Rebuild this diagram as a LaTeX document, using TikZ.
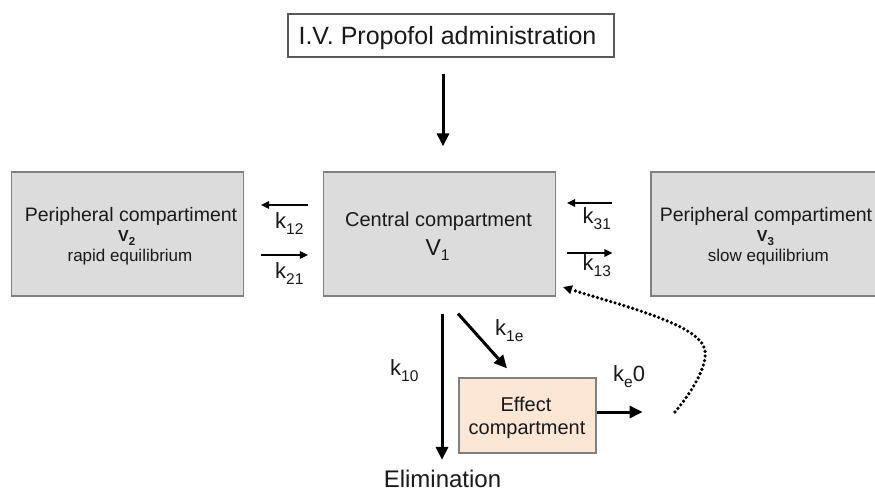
\documentclass[tikz,border=0pt]{standalone}
\usepackage{fontspec}
\setmainfont{Liberation Sans}
\usetikzlibrary{arrows.meta}
\newcommand\fs[1]{\fontsize{#1}{#1}\selectfont}
\newcommand\lowsub[3]{\raisebox{-#2pt}{\fs{#1}#3}}
\definecolor{peach}{RGB}{252,230,214}
\definecolor{boxgrey}{RGB}{220,220,220}
\definecolor{ink}{RGB}{25,25,25}
\begin{document}
\begin{tikzpicture}[x=1pt,y=-1pt,
  lab/.style={inner sep=0pt, anchor=base, text=ink},
  labw/.style={inner sep=0pt, anchor=base west, text=ink, font=\fs{22}},
  greybox/.style={draw=black!50, line width=1.2pt, fill=boxgrey, minimum width=232pt, minimum height=124pt, inner sep=0pt},
  topbox/.style={draw=black!65, line width=1.5pt, fill=white, minimum width=326pt, minimum height=43pt, inner sep=0pt},
  effbox/.style={draw=black!50, line width=1.2pt, fill=peach, minimum width=137pt, minimum height=75pt, inner sep=0pt},
  big/.style={line width=3pt, draw=black, -{Triangle[length=13pt,width=12pt]}},
  thinarr/.style={line width=1.3pt, draw=black, -{Triangle[length=8pt,width=7.5pt]}},
  dotted curve/.style={line width=3.6pt, line cap=round, dash pattern=on 0pt off 4.6pt, -{Triangle[length=9pt,width=8.5pt]}},
]
\useasboundingbox (0,0) rectangle (875,491);
\fill[white] (0,0) rectangle (875,491);

% boxes
\node[topbox] (top) at (451,35.5) {};
\node[greybox] (left) at (127.5,234) {};
\node[greybox] (central) at (439.5,234) {};
\node[greybox] (right) at (767,234) {};
\node[effbox] (effect) at (527.5,415.5) {};

% texts
\node[lab, font=\fs{25}] (toptxt) at (447.5,44) {I.V. Propofol administration};

\node[lab, font=\fs{19.5}] (ltitle) at (131,221.7) {Peripheral compartiment};
\node[lab, font=\fs{16}\bfseries] (lv) at (126.7,241.7) {V\lowsub{11.5}{3.5}{2}};
\node[lab, font=\fs{17}] (lsub) at (130,261) {rapid equilibrium};

\node[lab, font=\fs{20}] (ctitle) at (438.5,226) {Central compartment};
\node[lab, font=\fs{23}] (cv) at (437.5,255) {V\lowsub{15.5}{5}{1}};

\node[lab, font=\fs{19.5}] (rtitle) at (766,221.7) {Peripheral compartiment};
\node[lab, font=\fs{16}\bfseries] (rv) at (765.5,241.7) {V\lowsub{11.5}{3.5}{3}};
\node[lab, font=\fs{17}] (rsub) at (768.3,261) {slow equilibrium};

\node[lab, font=\fs{20}] (etitle1) at (526,411.5) {Effect};
\node[lab, font=\fs{20}] (etitle2) at (527,434) {compartment};

\node[lab, font=\fs{24}] (elim) at (442.5,487.5) {Elimination};

% rate labels
\node[labw] (k12) at (275,228.3) {k\lowsub{15.5}{6.5}{12}};
\node[labw] (k21) at (275,278.3) {k\lowsub{15.5}{6.5}{21}};
\node[labw] (k31) at (582.5,223.3) {k\lowsub{15.5}{6.5}{31}};
\node[labw] (k13) at (582.5,270) {k\lowsub{15.5}{6.5}{13}};
\node[labw] (k10) at (390,375) {k\lowsub{15.5}{6}{10}};
\node[labw] (k1e) at (495,335) {k\lowsub{15.5}{6}{1e}};
\node[labw] (ke0) at (613,381.7) {k\lowsub{15.5}{6}{e}0};

% arrows
\draw[big] ([xshift=-8pt,yshift=-16pt]top.south) -- ([xshift=3.5pt,yshift=25pt]central.north);
\draw[thinarr] ([xshift=-15pt,yshift=29pt]central.west) -- ([xshift=17pt,yshift=29pt]left.east);
\draw[thinarr] ([xshift=17pt,yshift=-21pt]left.east) -- ([xshift=-15pt,yshift=-21pt]central.west);
\draw[thinarr] ([xshift=-38pt,yshift=31pt]right.west) -- ([xshift=11pt,yshift=31pt]central.east);
\draw[thinarr] ([xshift=11pt,yshift=-19pt]central.east) -- ([xshift=-38pt,yshift=-19pt]right.west);
\draw[big] ([xshift=2.5pt,yshift=-17pt]central.south) -- ([xshift=-0.5pt,yshift=10pt]elim.north);
\draw[big] ([xshift=18.5pt,yshift=-17pt]central.south) -- ([xshift=-20.5pt,yshift=9pt]effect.north);
\draw[big] ([yshift=3.5pt]effect.east) -- ([xshift=46pt,yshift=3.5pt]effect.east);

% dotted feedback
\coordinate (dstart) at (675,412);
\coordinate (dend) at (563,287);
\draw[dotted curve] (dstart) .. controls (692,392) and (712,360) .. (703,345)
  .. controls (690,322) and (620,305) .. (dend);
\end{tikzpicture}
\end{document}
